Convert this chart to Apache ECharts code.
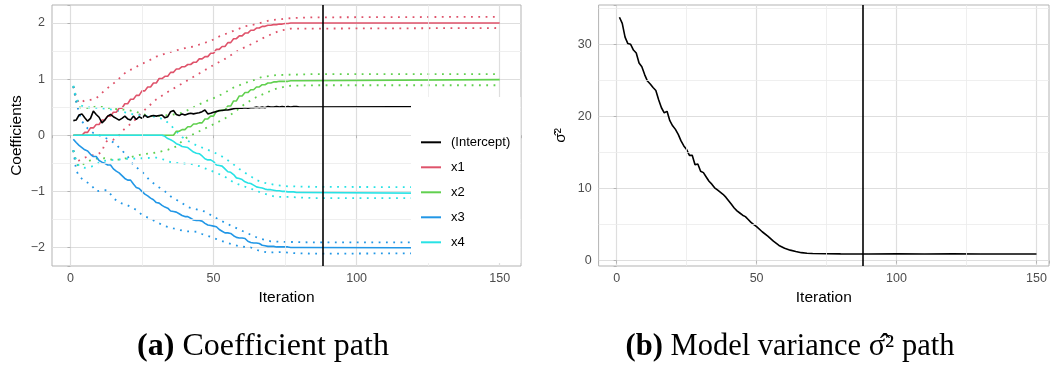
<!DOCTYPE html>
<html><head><meta charset="utf-8">
<script src="https://cdn.jsdelivr.net/npm/echarts@6/dist/echarts.min.js"></script>
<style>html,body{margin:0;padding:0;background:#fff}#c{width:1052px;height:367px}</style>
</head><body><div id="c"></div><script>
// ---------------- data ----------------
const coefNames = ['(Intercept)', 'x1', 'x2', 'x3', 'x4'];
const vlineIteration = 88;
const xTicks = [0, 50, 100, 150];
const minorX = [25, 75, 125];
const yTicksLeft = [-2, -1, 0, 1, 2];
const minorYLeft = [-1.5, -0.5, 0.5, 1.5];
const yTicksRight = [0, 10, 20, 30];
const minorYRight = [5, 15, 25, 35];

// main paths: values for iterations 1..80, then the value at iteration 150
const interceptMain = [
 0.26,0.27,0.36,0.38,0.31,0.25,0.30,0.43,0.37,0.32,
 0.22,0.27,0.34,0.37,0.33,0.30,0.27,0.30,0.34,0.29,
 0.27,0.34,0.28,0.33,0.30,0.36,0.32,0.34,0.35,0.34,
 0.35,0.36,0.31,0.33,0.42,0.44,0.37,0.35,0.38,0.36,
 0.38,0.39,0.38,0.39,0.40,0.42,0.45,0.38,0.39,0.41,
 0.42,0.44,0.44,0.45,0.45,0.46,0.47,0.48,0.48,0.48,
 0.49,0.48,0.49,0.49,0.50,0.49,0.50,0.49,0.51,0.50,
 0.50,0.51,0.50,0.51,0.50,0.51,0.50,0.51,0.51,0.50];
const interceptEnd = 0.51;
const x1Main = [
 0,0,0,0,0.05,0.05,0.13,0.13,0.19,0.19,
 0.27,0.27,0.34,0.34,0.41,0.41,0.48,0.48,0.56,0.56,
 0.64,0.64,0.71,0.71,0.79,0.79,0.86,0.86,0.93,0.93,
 1.01,1.01,1.05,1.05,1.12,1.12,1.18,1.18,1.22,1.22,
 1.26,1.26,1.30,1.30,1.36,1.36,1.40,1.40,1.46,1.46,
 1.53,1.53,1.58,1.58,1.65,1.65,1.72,1.72,1.77,1.77,
 1.82,1.82,1.87,1.87,1.91,1.91,1.94,1.94,1.96,1.96,
 1.97,1.97,1.98,1.98,1.99,1.99,2.00,2.00,2.00,2.00];
const x1End = 2.00;
const x2Main = [
 0,0,0,0,0,0,0,0,0,0,
 0,0,0,0,0,0,0,0,0,0,
 0,0,0,0,0,0,0,0,0,0,
 0,0,0,0,0,0,0.07,0.07,0.10,0.10,
 0.15,0.15,0.20,0.20,0.22,0.22,0.29,0.29,0.34,0.34,
 0.43,0.43,0.45,0.45,0.52,0.52,0.61,0.61,0.70,0.70,
 0.76,0.76,0.81,0.81,0.86,0.86,0.90,0.90,0.93,0.93,
 0.95,0.95,0.96,0.96,0.96,0.96,0.97,0.97,0.97,0.97];
const x2End = 0.99;
const x3Main = [
 -0.07,-0.13,-0.18,-0.22,-0.26,-0.28,-0.34,-0.38,-0.38,-0.45,
 -0.48,-0.50,-0.53,-0.53,-0.60,-0.64,-0.67,-0.72,-0.77,-0.80,
 -0.80,-0.87,-0.93,-0.95,-1.00,-1.05,-1.08,-1.12,-1.15,-1.20,
 -1.21,-1.25,-1.28,-1.30,-1.35,-1.36,-1.37,-1.40,-1.43,-1.45,
 -1.45,-1.48,-1.51,-1.52,-1.52,-1.53,-1.57,-1.60,-1.61,-1.62,
 -1.63,-1.68,-1.71,-1.74,-1.74,-1.75,-1.79,-1.82,-1.83,-1.83,
 -1.84,-1.89,-1.91,-1.92,-1.92,-1.93,-1.96,-1.97,-1.98,-1.98,
 -1.98,-1.99,-1.99,-1.99,-1.99,-1.99,-2.00,-2.00,-2.00,-2.00];
const x3End = -2.01;
const x4Main = [
 0,0,0,0,0,0,0,0,0,0,
 0,0,0,0,0,0,0,0,0,0,
 0,0,0,0,0,0,0,0,0,0,
 0,0,-0.02,-0.06,-0.08,-0.11,-0.15,-0.17,-0.20,-0.21,
 -0.22,-0.26,-0.30,-0.32,-0.33,-0.37,-0.42,-0.44,-0.44,-0.47,
 -0.53,-0.54,-0.55,-0.60,-0.65,-0.66,-0.70,-0.76,-0.77,-0.79,
 -0.83,-0.85,-0.86,-0.89,-0.92,-0.93,-0.94,-0.96,-0.97,-0.97,
 -0.98,-0.99,-0.99,-1.00,-1.00,-1.01,-1.01,-1.01,-1.02,-1.02];
const x4End = -1.04;

// dotted interval bounds: [iteration, value]
const x1Upper = [[1,0.87],[2,0.68],[3,0.57],[5,0.62],[7,0.63],[9,0.66],[10,0.70],[12,0.80],[14,0.88],[16,0.96],[18,1.06],[20,1.15],[22,1.18],[24,1.25],[27,1.32],[30,1.40],[33,1.45],[36,1.50],[40,1.55],[43,1.58],[46,1.63],[49,1.68],[52,1.76],[55,1.82],[58,1.88],[61,1.94],[64,1.97],[67,2.01],[70,2.05],[74,2.07],[78,2.09],[85,2.10],[150,2.11]];
const x1Lower = [[1,-0.27],[2,-0.48],[3,-0.45],[5,-0.40],[7,-0.36],[9,-0.35],[11,-0.30],[12,-0.15],[13,-0.09],[15,-0.08],[17,0.00],[18,0.07],[20,0.16],[22,0.24],[24,0.36],[27,0.50],[30,0.64],[33,0.74],[36,0.83],[39,0.92],[43,1.04],[46,1.13],[50,1.25],[54,1.36],[59,1.52],[64,1.64],[68,1.75],[73,1.86],[77,1.90],[85,1.90],[150,1.91]];
const x2Upper = [[1,0.87],[2,0.60],[3,0.50],[5,0.48],[7,0.49],[9,0.51],[12,0.50],[15,0.47],[20,0.45],[24,0.40],[27,0.35],[30,0.34],[35,0.36],[39,0.40],[42,0.47],[45,0.55],[48,0.62],[51,0.68],[54,0.76],[57,0.85],[61,0.93],[64,0.98],[67,1.04],[72,1.07],[78,1.08],[85,1.09],[150,1.09]];
const x2Lower = [[1,-0.27],[2,-0.50],[3,-0.56],[5,-0.50],[8,-0.42],[12,-0.41],[15,-0.44],[18,-0.43],[21,-0.39],[25,-0.34],[30,-0.31],[34,-0.26],[37,-0.20],[40,-0.06],[43,0.02],[47,0.12],[51,0.22],[54,0.30],[57,0.40],[61,0.56],[65,0.68],[69,0.77],[72,0.83],[76,0.88],[85,0.89],[150,0.89]];
const x3Upper = [[1,0.87],[2,0.60],[3,0.40],[4,0.25],[6,0.12],[8,0.04],[11,-0.02],[14,-0.09],[16,-0.17],[18,-0.27],[20,-0.38],[22,-0.53],[25,-0.65],[28,-0.82],[31,-0.93],[33,-1.00],[35,-1.09],[37,-1.15],[39,-1.21],[41,-1.28],[44,-1.32],[47,-1.36],[50,-1.45],[54,-1.56],[59,-1.68],[62,-1.75],[66,-1.84],[70,-1.89],[75,-1.90],[85,-1.91],[150,-1.91]];
const x3Lower = [[1,-0.27],[2,-0.62],[3,-0.73],[5,-0.82],[7,-0.87],[9,-1.00],[11,-0.98],[13,-0.98],[15,-1.12],[17,-1.20],[20,-1.25],[23,-1.33],[25,-1.42],[28,-1.49],[31,-1.57],[33,-1.62],[36,-1.66],[40,-1.71],[44,-1.72],[46,-1.76],[49,-1.81],[52,-1.87],[55,-1.92],[59,-1.98],[63,-2.00],[66,-2.06],[69,-2.09],[74,-2.08],[78,-2.10],[85,-2.11],[150,-2.10]];
const x4Upper = [[1,0.88],[2,0.68],[3,0.55],[5,0.50],[8,0.49],[11,0.48],[14,0.46],[18,0.42],[22,0.37],[26,0.34],[30,0.33],[33,0.27],[35,0.18],[37,0.07],[39,-0.03],[41,-0.10],[44,-0.18],[47,-0.24],[50,-0.30],[53,-0.38],[56,-0.48],[59,-0.60],[61,-0.67],[63,-0.73],[65,-0.80],[68,-0.85],[72,-0.89],[76,-0.91],[85,-0.92],[150,-0.93]];
const x4Lower = [[1,-0.27],[2,-0.45],[3,-0.55],[5,-0.58],[8,-0.55],[11,-0.46],[15,-0.44],[20,-0.42],[25,-0.41],[30,-0.40],[33,-0.44],[35,-0.48],[38,-0.50],[42,-0.51],[45,-0.55],[48,-0.61],[51,-0.67],[54,-0.74],[57,-0.84],[60,-0.90],[63,-0.95],[66,-1.01],[69,-1.06],[72,-1.10],[76,-1.10],[85,-1.12],[150,-1.12]];

// model variance path: [iteration, sigma^2]
const sigma2Path = [[1,33.75],[2,32.9],[3,31.0],[4,30.1],[5,30.0],[6,29.2],[7,28.8],[8,27.4],[9,26.9],[10,25.8],[11,24.9],[12,24.5],[13,24.0],[14,23.6],[15,22.3],[16,21.2],[17,20.5],[18,20.7],[19,19.4],[20,18.7],[21,18.2],[22,17.5],[23,16.6],[24,15.9],[25,15.4],[26,14.6],[27,14.6],[28,13.3],[29,13.4],[30,12.4],[31,12.2],[32,11.6],[33,11.0],[34,10.6],[35,10.1],[36,9.8],[37,9.5],[38,9.2],[39,8.8],[40,8.3],[41,7.8],[42,7.3],[43,6.9],[44,6.6],[45,6.3],[46,6.1],[47,5.7],[48,5.3],[49,5.0],[50,4.7],[52,4.0],[54,3.4],[56,2.7],[58,2.1],[60,1.7],[62,1.45],[64,1.25],[66,1.1],[68,1.02],[70,0.98],[75,0.95],[80,0.93],[90,0.92],[100,0.93],[110,0.92],[120,0.93],[130,0.92],[140,0.92],[150,0.92]];

// ---------------- chart ----------------
const palette = { '(Intercept)': '#000000', x1: '#DF536B', x2: '#61D04F', x3: '#2297E6', x4: '#28E2E5' };
const SANS = 'Liberation Sans';
const SERIF = 'Liberation Serif';
function path(vals, endVal) { return vals.map((v, k) => [k + 1, v]).concat([[150, endVal]]); }
const mains = {
  '(Intercept)': path(interceptMain, interceptEnd),
  x1: path(x1Main, x1End), x2: path(x2Main, x2End), x3: path(x3Main, x3End), x4: path(x4Main, x4End)
};
const bounds = { x1: [x1Upper, x1Lower], x2: [x2Upper, x2Lower], x3: [x3Upper, x3Lower], x4: [x4Upper, x4Lower] };
const fmtMinus = v => String(v).replace('-', '\u2212');

function xAxisCfg(gridIndex, max) {
  return {
    type: 'value', gridIndex, min: -6.45, max, minInterval: 50, maxInterval: 50,
    axisLine: { show: false },
    axisTick: { show: true, length: 3, lineStyle: { color: '#b3b3b3', width: 1 } },
    axisLabel: { color: '#4d4d4d', fontSize: 12.5, fontFamily: SANS, margin: 6,
      formatter: v => (xTicks.includes(v) ? String(v) : '') },
    splitLine: { show: true, showMinLine: false, showMaxLine: false, lineStyle: { color: '#dedede', width: 1.2 } },
    name: 'Iteration', nameLocation: 'middle', nameGap: 21,
    nameTextStyle: { color: '#000', fontSize: 15.5, fontFamily: SANS }
  };
}
function yAxisCfg(gridIndex, min, max, step, ticks, name, gap) {
  return {
    type: 'value', gridIndex, min, max, minInterval: step, maxInterval: step,
    axisLine: { show: false },
    axisTick: { show: true, length: 3, lineStyle: { color: '#b3b3b3', width: 1 } },
    axisLabel: { color: '#4d4d4d', fontSize: 12.5, fontFamily: SANS, margin: 7,
      formatter: v => (ticks.includes(v) ? fmtMinus(v) : '') },
    splitLine: { show: true, showMinLine: false, showMaxLine: false, lineStyle: { color: '#dedede', width: 1.2 } },
    name, nameLocation: 'middle', nameGap: gap, nameRotate: 90,
    nameTextStyle: { color: '#000', fontSize: 15.5, fontFamily: SANS }
  };
}
function minorGrid(xi, xs, ys) {
  return {
    type: 'line', xAxisIndex: xi, yAxisIndex: xi, data: [], z: 1, silent: true,
    markLine: { silent: true, symbol: ['none', 'none'], animation: false, label: { show: false },
      lineStyle: { color: '#ebebeb', width: 0.8, type: 'solid' },
      emphasis: { disabled: true },
      data: xs.map(v => ({ xAxis: v })).concat(ys.map(v => ({ yAxis: v }))) }
  };
}
function vline(xi) {
  return {
    type: 'line', xAxisIndex: xi, yAxisIndex: xi, data: [], z: 4, silent: true,
    markLine: { silent: true, symbol: ['none', 'none'], animation: false, label: { show: false },
      lineStyle: { color: '#000', width: 1.6, type: 'solid' }, emphasis: { disabled: true },
      data: [{ xAxis: vlineIteration }] }
  };
}

const series = [minorGrid(0, minorX, minorYLeft)];
['x1', 'x2', 'x3', 'x4'].forEach(n => {
  bounds[n].forEach((b, k) => series.push({
    type: 'line', name: n + (k ? ' lower' : ' upper'), xAxisIndex: 0, yAxisIndex: 0, data: b,
    showSymbol: false, symbol: 'none', z: 2, silent: true,
    lineStyle: { color: palette[n], width: 1.8, type: [1.8, 5.5], cap: 'butt' }
  }));
});
['x1', 'x2', 'x3', 'x4', '(Intercept)'].forEach(n => series.push({
  type: 'line', name: n, xAxisIndex: 0, yAxisIndex: 0, data: mains[n],
  showSymbol: false, symbol: 'none', z: 3, silent: true, color: palette[n],
  lineStyle: { color: palette[n], width: 1.6 }
}));
series.push(vline(0));
series.push(minorGrid(1, minorX, minorYRight));
series.push({ type: 'line', name: 'sigma2', xAxisIndex: 1, yAxisIndex: 1, data: sigma2Path,
  showSymbol: false, symbol: 'none', z: 3, silent: true, lineStyle: { color: '#000', width: 1.6 } });
series.push(vline(1));

const chart = echarts.init(document.getElementById('c'), null, { renderer: 'canvas' });
chart.setOption({
  animation: false,
  backgroundColor: '#fff',
  grid: [
    { left: 52, top: 5, width: 469, height: 261, show: true, borderColor: '#b3b3b3', borderWidth: 1, backgroundColor: 'transparent', containLabel: false },
    { left: 598.6, top: 5, width: 452.5, height: 261, show: true, borderColor: '#b3b3b3', borderWidth: 1, backgroundColor: 'transparent', containLabel: false }
  ],
  xAxis: [xAxisCfg(0, 157.45), xAxisCfg(1, 154.47)],
  yAxis: [
    yAxisCfg(0, -2.33, 2.32, 1, yTicksLeft, 'Coefficients', 27),
    yAxisCfg(1, -0.75, 35.45, 10, yTicksRight, '\u03C3\u0302\u00B2', 30)
  ],
  legend: {
    data: coefNames, orient: 'vertical', left: 421, top: 135.8, padding: 0, z: 60,
    itemWidth: 20, itemHeight: 2, itemGap: 12, icon: 'rect', selectedMode: false,
    textStyle: { color: '#000', fontSize: 13, fontFamily: SANS, lineHeight: 13, padding: [0, 0, 0, 5] }
  },
  graphic: [
    { type: 'rect', z: 50, silent: true, shape: { x: 411, y: 97, width: 109.5, height: 166 }, style: { fill: '#fff' } },
    { type: 'text', z: 50, x: 263, y: 347, silent: true,
      style: { text: '{b|(a)} Coefficient path', fill: '#000', fontSize: 32, fontFamily: SERIF, align: 'center', verticalAlign: 'middle',
        rich: { b: { fontSize: 32, fontFamily: SERIF, fontWeight: 'bold', fill: '#000' } } } },
    { type: 'text', z: 50, x: 790, y: 347, silent: true,
      style: { text: '{b|(b)} Model variance \u03C3\u0302\u00B2 path', fill: '#000', fontSize: 30.5, fontFamily: SERIF, align: 'center', verticalAlign: 'middle',
        rich: { b: { fontSize: 30.5, fontFamily: SERIF, fontWeight: 'bold', fill: '#000' } } } }
  ],
  series
});
</script></body></html>
